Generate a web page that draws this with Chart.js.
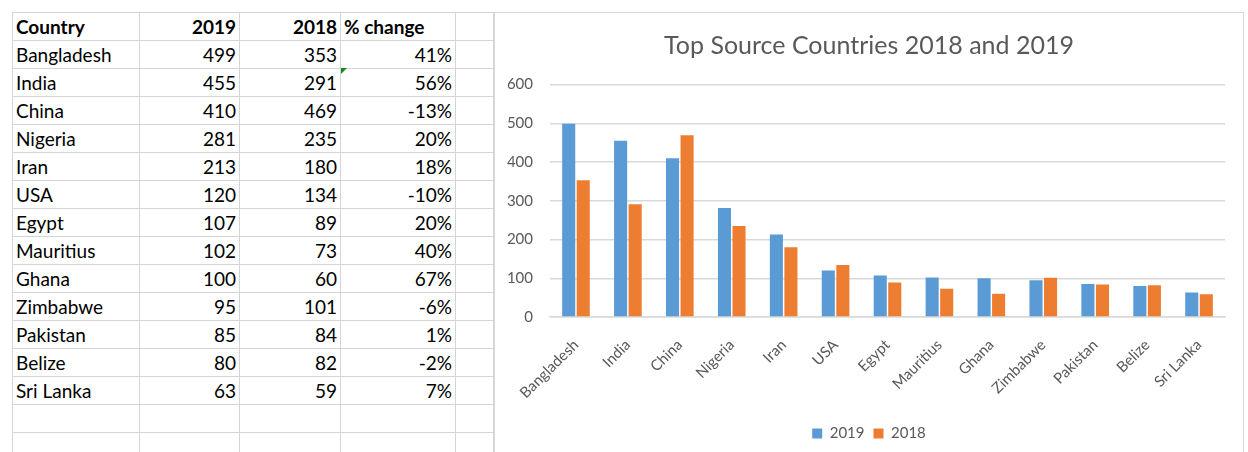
<!DOCTYPE html>
<html>
<head>
<meta charset="utf-8">
<script src="https://cdn.jsdelivr.net/npm/chart.js"></script>
<style>
  body { margin: 0; background: #fff; width: 1248px; height: 452px; overflow: hidden; position: relative; font-family: Lato, "Open Sans", sans-serif; }
  #sheet { position: absolute; left: 12px; top: 12px; border-collapse: collapse; table-layout: fixed; }
  #sheet td { border: 1px solid #d4d4d4; height: 27px; padding: 0 3px; font-size: 19px; color: #000; white-space: nowrap; overflow: hidden; line-height: 27px; }
  #sheet td.num { text-align: right; }
  #sheet tr.head td { font-weight: bold; }
  .flag { position: absolute; left: 341px; top: 68px; width: 0; height: 0; border-top: 6px solid #1a8a1a; border-right: 6px solid transparent; }
  #box { position: absolute; left: 494px; top: 12px; width: 748px; height: 440px; background: #fff; border-left: 1px solid #d9d9d9; border-top: 1px solid #d9d9d9; border-right: 1px solid #d9d9d9; }
</style>
</head>
<body>
<table id="sheet">
  <colgroup>
    <col style="width:127px"><col style="width:100px"><col style="width:101px"><col style="width:115px"><col style="width:38px">
  </colgroup>
  <tbody id="rows"></tbody>
</table>
<div class="flag"></div>
<div id="box"><canvas id="bar-chart"></canvas></div>

<script>
// data
var countries = ['Bangladesh', 'India', 'China', 'Nigeria', 'Iran', 'USA', 'Egypt', 'Mauritius', 'Ghana', 'Zimbabwe', 'Pakistan', 'Belize', 'Sri Lanka'];
var data2019 = [499, 455, 410, 281, 213, 120, 107, 102, 100, 95, 85, 80, 63];
var data2018 = [353, 291, 469, 235, 180, 134, 89, 73, 60, 101, 84, 82, 59];
var pctChange = ['41%', '56%', '-13%', '20%', '18%', '-10%', '20%', '40%', '67%', '-6%', '1%', '-2%', '7%'];
var yTicks = [0, 100, 200, 300, 400, 500, 600];

// Spreadsheet table
var rows = document.getElementById('rows');
var html = '<tr class="head"><td>Country</td><td class="num">2019</td><td class="num">2018</td><td>% change</td><td></td></tr>';
for (let i = 0; i < countries.length; i++) {
    html += '<tr><td>' + countries[i] + '</td><td class="num">' + data2019[i] + '</td><td class="num">' + data2018[i] +
        '</td><td class="num">' + pctChange[i] + '</td><td></td></tr>';
}
html += '<tr><td></td><td></td><td></td><td></td><td></td></tr>';
html += '<tr><td></td><td></td><td></td><td></td><td></td></tr>';
rows.innerHTML = html;

// Bar chart
var grey = '#595959';
var ctx = document.getElementById('bar-chart').getContext('2d');

var config = {
    type: 'bar',
    data: {
        labels: countries,
        datasets: [{
            label: '2019',
            data: data2019,
            backgroundColor: '#5B9BD5',
            barPercentage: 0.9,
            categoryPercentage: 0.56
        }, {
            label: '2018',
            data: data2018,
            backgroundColor: '#ED7D31',
            barPercentage: 0.9,
            categoryPercentage: 0.56
        }]
    },
    options: {
        responsive: true,
        maintainAspectRatio: false,
        animation: false,
        layout: {
            padding: { left: 0, right: 0, top: 0, bottom: 2 }
        },
        scales: {
            x: {
                grid: { display: false },
                border: { color: '#d9d9d9', width: 1.5 },
                ticks: {
                    color: grey,
                    font: { family: 'Lato', size: 15 },
                    minRotation: 45,
                    maxRotation: 45,
                    padding: 11
                },
                afterFit: function(scale) { scale.height = 100; }
            },
            y: {
                min: 0,
                max: 600,
                afterBuildTicks: function(scale) { scale.ticks = yTicks.map(v => ({ value: v })); },
                grid: { color: '#d9d9d9', lineWidth: 1.5, drawTicks: false },
                border: { display: false },
                ticks: {
                    color: grey,
                    font: { family: 'Lato', size: 15 },
                    padding: 17
                },
                afterFit: function(scale) { scale.width = 55; }
            },
            // empty right-hand strip so the plot ends where Excel's does
            spacer: {
                type: 'linear',
                position: 'right',
                grid: { display: false },
                border: { display: false },
                ticks: { display: false },
                afterFit: function(scale) { scale.width = 18; }
            }
        },
        plugins: {
            title: {
                display: true,
                text: 'Top Source Countries 2018 and 2019',
                color: grey,
                font: { family: 'Lato', size: 25, weight: 'normal' },
                padding: { top: 18, bottom: 23.5 }
            },
            legend: {
                position: 'bottom',
                labels: {
                    color: grey,
                    font: { family: 'Lato', size: 15 },
                    boxWidth: 10,
                    boxHeight: 10,
                    padding: 9
                }
            },
            tooltip: { enabled: false }
        }
    }
};

new Chart(ctx, config);
</script>
</body>
</html>
